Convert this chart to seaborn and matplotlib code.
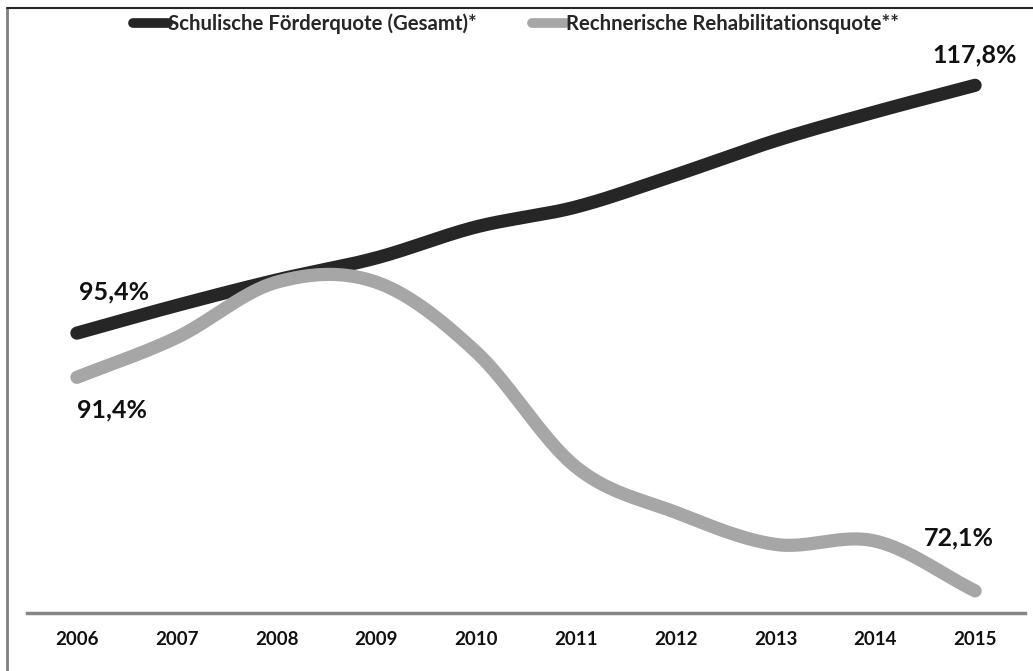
import numpy as np
import pandas as pd
import matplotlib
matplotlib.use("Agg")
import matplotlib.pyplot as plt
from matplotlib.lines import Line2D
import seaborn as sns

years = ["2006", "2007", "2008", "2009", "2010", "2011", "2012", "2013", "2014", "2015"]
foerderquote = [95.4, 97.9, 100.2, 102.2, 105.0, 106.8, 109.7, 112.8, 115.4, 117.8]
rehaquote = [91.4, 95.0, 100.0, 100.0, 93.7, 83.3, 79.2, 76.3, 76.6, 72.1]
series_names = ["Schulische Förderquote (Gesamt)*", "Rechnerische Rehabilitationsquote**"]
colors = ["#262626", "#a6a6a6"]

def smooth(vals, n=40):
    """Catmull-Rom style smoothing (like Excel smoothed lines)."""
    p = np.asarray(vals, float)
    xs, ys = [], []
    m = np.zeros_like(p)
    m[1:-1] = (p[2:] - p[:-2]) / 2
    m[0] = (p[1] - p[0])
    m[-1] = (p[-1] - p[-2])
    for i in range(len(p) - 1):
        t = np.linspace(0, 1, n, endpoint=(i == len(p) - 2))
        h00 = 2*t**3 - 3*t**2 + 1
        h10 = t**3 - 2*t**2 + t
        h01 = -2*t**3 + 3*t**2
        h11 = t**3 - t**2
        xs.append(i + t)
        ys.append(h00*p[i] + h10*m[i] + h01*p[i+1] + h11*m[i+1])
    return np.concatenate(xs), np.concatenate(ys)

frames = []
for name, vals in zip(series_names, [foerderquote, rehaquote]):
    sx, sy = smooth(vals)
    frames.append(pd.DataFrame({"x": sx, "y": sy, "series": name}))
df = pd.concat(frames, ignore_index=True)

sns.set_theme(style="white")
plt.rcParams['font.family'] = ['Lato', 'DejaVu Sans']

fig = plt.figure(figsize=(10.33, 6.71), dpi=100)
ax = fig.add_axes([27/1033, 1 - 613/671, (1025-27)/1033, (613-30)/671])

sns.lineplot(data=df, x="x", y="y", hue="series", palette=colors,
             linewidth=9.5, ax=ax, legend=False, sort=False)
for line in ax.lines:
    line.set_solid_capstyle("round")

ax.set_xlim(-0.5, 9.5)
ax.set_ylim(70.1, 122.8)
ax.set_xlabel("")
ax.set_ylabel("")
ax.set_yticks([])
ax.set_xticks(range(len(years)))
ax.set_xticklabels(years, fontsize=13.5, fontweight="bold", color="#111111")
ax.set_xticks(np.arange(-0.5, 10, 1), minor=True)
ax.tick_params(axis="x", which="major", length=0, pad=13)
ax.tick_params(axis="x", which="minor", length=5, width=2.2, color="#868686", direction="out")
for s in ["top", "right", "left"]:
    ax.spines[s].set_visible(False)
ax.spines["bottom"].set_color("#868686")
ax.spines["bottom"].set_linewidth(2.5)

lab_kw = dict(fontsize=18, fontweight="bold", color="#111111", ha="center", va="center")
ax.annotate("95,4%", xy=(0, foerderquote[0]), xytext=(37, 41), textcoords="offset pixels", **lab_kw)
ax.annotate("91,4%", xy=(0, rehaquote[0]), xytext=(35, -33), textcoords="offset pixels", **lab_kw)
ax.annotate("117,8%", xy=(9, foerderquote[-1]), xytext=(0, 30), textcoords="offset pixels", **lab_kw)
ax.annotate("72,1%", xy=(9, rehaquote[-1]), xytext=(-16, 53), textcoords="offset pixels", **lab_kw)

handles = [Line2D([0], [0], color=c, lw=7, solid_capstyle="round") for c in colors]
leg = fig.legend(handles, series_names, loc="center left",
                 bbox_to_anchor=(133/1033, 1 - 24/671), ncol=2, frameon=False,
                 handlelength=1.7, handletextpad=0.0, columnspacing=2.7,
                 prop={"family": ["Lato", "DejaVu Sans"], "weight": "bold", "size": 14.7},
                 borderaxespad=0, borderpad=0)

fig.add_artist(Line2D([7/1033, 7/1033], [0, 1 - 8/671], transform=fig.transFigure,
                      color="#808080", lw=2))
fig.add_artist(Line2D([7/1033, 1], [1 - 8/671, 1 - 8/671], transform=fig.transFigure,
                      color="#262626", lw=1.5))

fig.savefig("out.png", dpi=100)
